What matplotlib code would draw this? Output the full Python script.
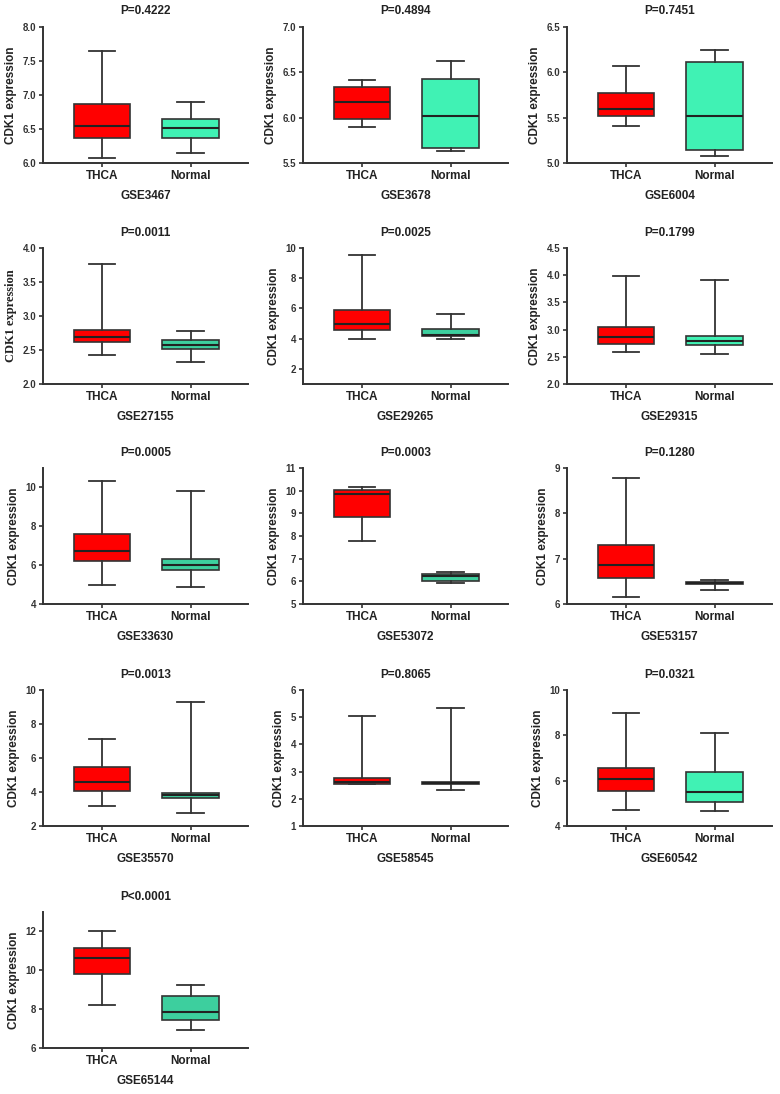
import matplotlib
matplotlib.use('Agg')
import matplotlib.pyplot as plt

plt.rcParams['font.family'] = 'Liberation Sans'
plt.rcParams['font.weight'] = 'bold'

datasets = ['GSE3467', 'GSE3678', 'GSE6004', 'GSE27155', 'GSE29265', 'GSE29315',
            'GSE33630', 'GSE53072', 'GSE53157', 'GSE35570', 'GSE58545', 'GSE60542',
            'GSE65144']
pvals = ['P=0.4222', 'P=0.4894', 'P=0.7451', 'P=0.0011', 'P=0.0025', 'P=0.1799',
         'P=0.0005', 'P=0.0003', 'P=0.1280', 'P=0.0013', 'P=0.8065', 'P=0.0321',
         'P<0.0001']
groups = ['THCA', 'Normal']

# five-number summaries: whisker low, q1, median, q3, whisker high
thca = [
    [6.08, 6.37, 6.55, 6.87, 7.65],
    [5.90, 5.99, 6.17, 6.34, 6.42],
    [5.41, 5.52, 5.60, 5.77, 6.07],
    [2.42, 2.62, 2.69, 2.80, 3.77],
    [3.97, 4.60, 4.95, 5.87, 9.55],
    [2.59, 2.74, 2.86, 3.05, 3.99],
    [5.00, 6.22, 6.72, 7.62, 10.32],
    [7.77, 8.82, 9.85, 10.03, 10.15],
    [6.16, 6.58, 6.86, 7.31, 8.79],
    [3.15, 4.05, 4.60, 5.45, 7.12],
    [2.55, 2.55, 2.62, 2.78, 5.05],
    [4.70, 5.53, 6.07, 6.55, 9.00],
    [8.20, 9.80, 10.65, 11.15, 12.00],
]
normal = [
    [6.15, 6.37, 6.52, 6.65, 6.90],
    [5.63, 5.66, 6.02, 6.43, 6.62],
    [5.08, 5.14, 5.52, 6.11, 6.25],
    [2.33, 2.51, 2.57, 2.64, 2.78],
    [3.95, 4.18, 4.22, 4.65, 5.60],
    [2.56, 2.72, 2.79, 2.88, 3.91],
    [4.85, 5.75, 6.00, 6.30, 9.80],
    [5.93, 6.00, 6.22, 6.33, 6.43],
    [6.30, 6.44, 6.46, 6.48, 6.54],
    [2.78, 3.65, 3.80, 3.97, 9.30],
    [2.32, 2.55, 2.57, 2.60, 5.35],
    [4.65, 5.05, 5.48, 6.38, 8.12],
    [6.95, 7.45, 7.85, 8.70, 9.25],
]
ylims = [(6, 8), (5.5, 7), (5, 6.5), (2, 4), (1, 10), (2, 4.5), (4, 11), (5, 11),
         (6, 9), (2, 10), (1, 6), (4, 10), (6, 13)]
yticks = [
    [6.0, 6.5, 7.0, 7.5, 8.0],
    [5.5, 6.0, 6.5, 7.0],
    [5.0, 5.5, 6.0, 6.5],
    [2.0, 2.5, 3.0, 3.5, 4.0],
    [2, 4, 6, 8, 10],
    [2.0, 2.5, 3.0, 3.5, 4.0, 4.5],
    [4, 6, 8, 10],
    [5, 6, 7, 8, 9, 10, 11],
    [6, 7, 8, 9],
    [2, 4, 6, 8, 10],
    [1, 2, 3, 4, 5, 6],
    [4, 6, 8, 10],
    [6, 8, 10, 12],
]
yfmt = ['%.1f', '%.1f', '%.1f', '%.1f', '%d', '%.1f', '%d', '%d', '%d', '%d', '%d', '%d', '%d']

red = '#ff0000'
green_light = '#40f2b4'
green_dark = '#3dcf9e'
normal_colors = [green_light, green_light, green_light, green_dark, green_dark, green_light,
                 green_dark, green_dark, green_dark, green_dark, '#222222', green_light,
                 green_dark]

W, H = 780, 1094
fig = plt.figure(figsize=(W / 100, H / 100), dpi=100)

col_left = [43, 303, 567]
row_top = [27, 248, 468, 690, 912]
ax_w, ax_h = 205, 136

for i, name in enumerate(datasets):
    r, c = divmod(i, 3)
    x0 = col_left[c]
    y0 = row_top[r] + ax_h
    ax = fig.add_axes([x0 / W, 1 - y0 / H, ax_w / W, ax_h / H])

    stats = []
    for g, s in zip(groups, [thca[i], normal[i]]):
        stats.append(dict(label=g, whislo=s[0], q1=s[1], med=s[2], q3=s[3], whishi=s[4]))
    bp = ax.bxp(stats, positions=[1, 2], widths=0.64, capwidths=0.3,
                showfliers=False, patch_artist=True,
                boxprops=dict(edgecolor='#333333', linewidth=1.2),
                whiskerprops=dict(color='#333333', linewidth=1.3),
                capprops=dict(color='#333333', linewidth=1.3),
                medianprops=dict(color='#222222', linewidth=1.5))
    bp['boxes'][0].set_facecolor(red)
    bp['boxes'][1].set_facecolor(normal_colors[i])

    ax.set_xlim(0.33, 2.65)
    ax.set_ylim(*ylims[i])
    ax.set_yticks(yticks[i])
    ax.set_yticklabels([yfmt[i] % v for v in yticks[i]], fontsize=7, color='#333333')
    ax.set_xticks([1, 2])
    ax.set_xticklabels(groups, fontsize=8.5, color='#222222')
    for side in ['top', 'right']:
        ax.spines[side].set_visible(False)
    for side in ['left', 'bottom']:
        ax.spines[side].set_linewidth(1.4)
        ax.spines[side].set_color('#333333')
    ax.tick_params(axis='both', width=1.2, length=3, color='#333333', pad=2)

    ax.set_title(pvals[i], fontsize=8.5, fontweight='bold', pad=9, color='#222222')
    ax.set_xlabel(name, fontsize=8.5, fontweight='bold', labelpad=6, color='#222222')
    if name == 'GSE27155':
        ax.set_ylabel('CDK1 expression', fontsize=9, fontweight='bold',
                      family='Liberation Serif', color='#222222')
    else:
        ax.set_ylabel('CDK1 expression', fontsize=8.5, fontweight='bold', color='#222222')

fig.savefig('out.png', dpi=100)
